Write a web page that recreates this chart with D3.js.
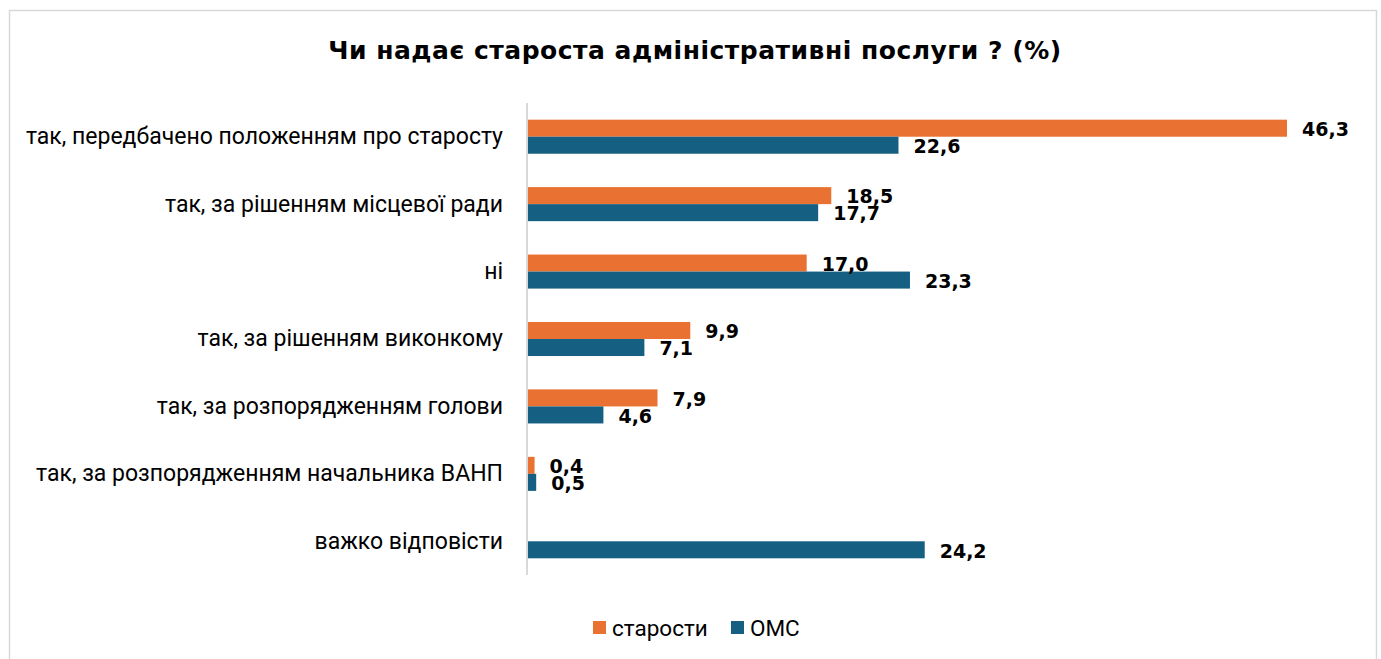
<!DOCTYPE html>
<html>
<head>
<meta charset="utf-8">
<script src="https://cdn.jsdelivr.net/npm/d3@7"></script>
<style>
  html, body { margin: 0; padding: 0; background: #fff; }
  svg { display: block; }
</style>
</head>
<body>
<svg id="chart" width="1381" height="659"></svg>
<script>
// Categories (top to bottom) and the two series, in percent
const categories = [
  "так, передбачено положенням про старосту",
  "так, за рішенням місцевої ради",
  "ні",
  "так, за рішенням виконкому",
  "так, за розпорядженням голови",
  "так, за розпорядженням начальника ВАНП",
  "важко відповісти"
];
const seriesNames = ["старости", "ОМС"];
const starosty = [46.3, 18.5, 17.0, 9.9, 7.9, 0.4, null];
const oms = [22.6, 17.7, 23.3, 7.1, 4.6, 0.5, 24.2];
const colors = ["#E97132", "#156082"];
const title = "Чи надає староста адміністративні послуги ? (%)";

const svg = d3.select("#chart");

// Outer frame
svg.append("rect")
  .attr("x", 9.5).attr("y", 10.5)
  .attr("width", 1367).attr("height", 660)
  .attr("fill", "#fff").attr("stroke", "#d9d9d9").attr("stroke-width", 1.5);

// Title
svg.append("text")
  .attr("x", 695).attr("y", 59)
  .attr("text-anchor", "middle")
  .attr("font-family", "'DejaVu Sans', sans-serif")
  .attr("font-weight", "bold")
  .attr("font-size", 25)
  .attr("letter-spacing", 0.5)
  .attr("fill", "#000")
  .text(title);

const x0 = 528;
const x = d3.scaleLinear().domain([0, 46.3]).range([x0, 1287]);
const y = d3.scaleBand().domain(categories).range([103, 575]).paddingInner(0.495).paddingOuter(0.2475);
const ySub = d3.scaleBand().domain(seriesNames).range([0, y.bandwidth()]);

const rows = categories.map((c, i) => ({
  cat: c,
  vals: [
    { s: seriesNames[0], v: starosty[i], color: colors[0] },
    { s: seriesNames[1], v: oms[i], color: colors[1] }
  ].filter(d => d.v !== null)
}));

const g = svg.append("g");
const row = g.selectAll("g.row").data(rows).join("g")
  .attr("class", "row")
  .attr("transform", d => `translate(0,${y(d.cat)})`);

row.selectAll("rect").data(d => d.vals).join("rect")
  .attr("x", x(0))
  .attr("y", d => ySub(d.s))
  .attr("width", d => x(d.v) - x(0))
  .attr("height", ySub.bandwidth())
  .attr("fill", d => d.color);

const fmt = v => v.toFixed(1).replace(".", ",");
row.selectAll("text.val").data(d => d.vals).join("text")
  .attr("class", "val")
  .attr("x", d => x(d.v) + 15)
  .attr("y", d => ySub(d.s) + ySub.bandwidth() / 2 + 1)
  .attr("dy", "0.36em")
  .attr("font-family", "'DejaVu Sans', sans-serif")
  .attr("font-weight", "bold")
  .attr("font-size", 19)
  .attr("fill", "#000")
  .text(d => fmt(d.v));

// Category axis
const axis = d3.axisLeft(y).tickSize(0).tickPadding(24);
const ax = svg.append("g").attr("transform", `translate(${x0 - 1},0)`).call(axis);
ax.select(".domain").attr("stroke", "#d9d9d9").attr("stroke-width", 2)
  .attr("d", `M0,103V575`);
ax.selectAll(".tick text")
  .attr("font-family", "Roboto, 'Liberation Sans', sans-serif")
  .attr("font-size", 23)
  .attr("fill", "#000");

// Legend
const legend = svg.append("g").attr("transform", "translate(0,628)");
const legItems = [{ name: seriesNames[0], color: colors[0], x: 593 }, { name: seriesNames[1], color: colors[1], x: 731 }];
legItems.forEach(it => {
  legend.append("rect").attr("x", it.x).attr("y", -7).attr("width", 13).attr("height", 13).attr("fill", it.color);
  legend.append("text").attr("x", it.x + 19).attr("y", 0).attr("dy", "0.36em")
    .attr("font-family", "Roboto, 'Liberation Sans', sans-serif")
    .attr("font-size", 22.5).attr("fill", "#000").text(it.name);
});
</script>
</body>
</html>
